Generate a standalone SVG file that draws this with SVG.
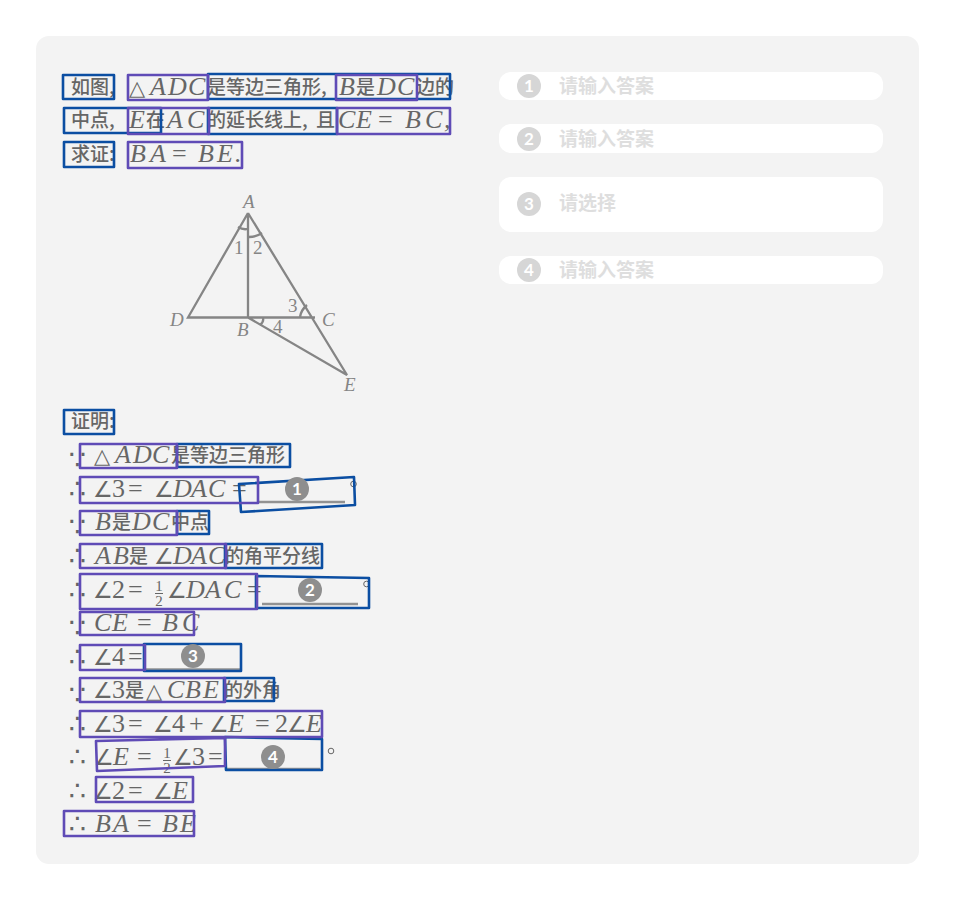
<svg xmlns="http://www.w3.org/2000/svg" width="955" height="900" viewBox="0 0 955 900">
<style>
text{font-family:"Liberation Serif","DejaVu Sans","Noto Sans CJK SC",serif;font-size:25px;fill:#666}
.c{font-family:"Noto Sans CJK SC","Liberation Sans",sans-serif;font-size:19px;font-weight:500}
.m{font-style:italic;font-size:26px}
.r{font-size:26px}
.a{font-size:22px}
.s{font-family:"DejaVu Sans",sans-serif;font-size:21px}
.d{font-family:"DejaVu Sans",sans-serif;font-size:27px}
.f{font-size:15px;text-anchor:middle}
.g{font-family:"Liberation Serif",serif;font-size:19px;fill:#858585}
.gi{font-style:italic}
.b{fill:none;stroke:#0b4ea2;stroke-width:2.6;stroke-linejoin:round}
.p{fill:none;stroke:#5f4bb6;stroke-width:2.6;stroke-linejoin:round}
.u{stroke:#929292;stroke-width:2.5}
.l{fill:none;stroke:#858585;stroke-width:2.3}
.h{fill:#fff}
.bd{fill:#8e8e8e}
.bl{fill:#d6d6d6}
.n{font-family:"Lato","Liberation Sans",sans-serif;font-weight:700;font-size:17px;fill:#fff;text-anchor:middle}
.q{font-family:"Noto Sans CJK SC",sans-serif;font-size:19px;font-weight:700;fill:#dedede}
.o{fill:none;stroke:#666;stroke-width:1}
</style>
<rect x="0" y="0" width="955" height="900" fill="#fff"/>
<rect x="36" y="36" width="883" height="828" rx="13" fill="#f3f3f3"/>
<g id="answers">
<rect class="h" x="499" y="72" width="384" height="28" rx="12"/>
<rect class="h" x="499" y="124" width="384" height="29" rx="12"/>
<rect class="h" x="499" y="177" width="384" height="55" rx="12"/>
<rect class="h" x="499" y="256" width="384" height="28" rx="12"/>
<circle class="bl" cx="529" cy="86" r="12"/><text class="n" x="529" y="92">1</text><text class="q" x="559" y="93">请输入答案</text>
<circle class="bl" cx="529" cy="139" r="12"/><text class="n" x="529" y="145">2</text><text class="q" x="559" y="146">请输入答案</text>
<circle class="bl" cx="529" cy="204" r="12"/><text class="n" x="529" y="210">3</text><text class="q" x="559" y="210">请选择</text>
<circle class="bl" cx="529" cy="270" r="12"/><text class="n" x="529" y="276">4</text><text class="q" x="559" y="277">请输入答案</text>
</g>
<g id="question">
<text class="c" x="71" y="94">如图,</text>
<text class="s" x="129" y="95">△</text><text class="m" x="150 168 188" y="95">ADC</text>
<text class="c" x="207" y="94">是等边三角形,</text>
<text class="m" x="339" y="95">B</text><text class="c" x="356" y="94">是</text><text class="m" x="377 397" y="95">DC</text>
<text class="c" x="416" y="94">边的</text>
<text class="c" x="71" y="127">中点,</text>
<text class="m" x="129" y="128">E</text><text class="c" x="146" y="127">在</text><text class="m" x="167 187" y="128">AC</text>
<text class="c" x="207" y="127">的延长线上,</text><text class="c" x="316" y="127">且</text>
<text class="m" x="338 356" y="128">CE</text><text class="r" x="378" y="128">=</text><text class="m" x="405 425 444" y="128">BC,</text>
<text class="c" x="71" y="161">求证:</text>
<text class="m" x="130 150" y="162">BA</text><text class="r" x="172" y="162">=</text><text class="m" x="198 217 235" y="162">BE.</text>
</g>
<g id="figure">
<path class="l" d="M248 213L188 317.500H315M248 213V317.500M248 213L347 375L248 317.500"/>
<path class="l" d="M238 227Q243 230 247.500 229M249 237Q256 237 262 233M300 317Q301 310 307 305M260 325Q264 322 263 318"/>
<text class="g gi" x="243" y="208">A</text><text class="g gi" x="170" y="326">D</text><text class="g gi" x="322" y="326">C</text><text class="g gi" x="237" y="336">B</text><text class="g gi" x="344" y="391">E</text>
<text class="g" x="234" y="254">1</text><text class="g" x="253" y="254">2</text><text class="g" x="288" y="312">3</text><text class="g" x="273" y="333">4</text>
</g>
<g id="proof">
<text class="c" x="71" y="428">证明:</text>
<text class="d" x="69" y="469">∵</text><text class="s" x="94" y="463">△</text><text class="m" x="115 133 152" y="463">ADC</text><text class="c" x="171" y="462">是等边三角形</text>
<text class="d" x="69" y="498">∴</text><text class="r" x="93 112 128 154" y="497"><tspan class="a">∠</tspan>3=<tspan class="a">∠</tspan></text><text class="m" x="173 191 208" y="497">DAC</text><text class="r" x="232" y="497">=</text>
<text class="d" x="69" y="536">∵</text><text class="m" x="95" y="530">B</text><text class="c" x="112" y="529">是</text><text class="m" x="132 152" y="530">DC</text><text class="c" x="171" y="529">中点</text>
<text class="d" x="69" y="565">∴</text><text class="m" x="95 113" y="564">AB</text><text class="c" x="129" y="563">是</text><text class="r a" x="154" y="564">∠</text><text class="m" x="173 191 208" y="564">DAC</text><text class="c" x="225" y="563">的角平分线</text>
<text class="d" x="69" y="599">∴</text><text class="r" x="93 112 128" y="598"><tspan class="a">∠</tspan>2=</text><text class="f" x="159" y="591">1</text><path d="M155 593.500H163" stroke="#666" stroke-width="1"/><text class="f" x="159" y="606">2</text><text class="r a" x="167" y="598">∠</text><text class="m" x="186 205 224" y="598">DAC</text><text class="r" x="247" y="598">=</text>
<text class="d" x="69" y="637">∵</text><text class="m" x="94 112" y="631">CE</text><text class="r" x="137" y="631">=</text><text class="m" x="162 182" y="631">BC</text>
<text class="d" x="69" y="666">∴</text><text class="r" x="93 112 128" y="665"><tspan class="a">∠</tspan>4=</text>
<text class="d" x="69" y="704">∵</text><text class="r" x="93 112" y="698"><tspan class="a">∠</tspan>3</text><text class="c" x="122" y="697" dx="3">是</text><text class="s" x="146" y="698">△</text><text class="m" x="167 185 203" y="698">CBE</text><text class="c" x="224" y="697">的外角</text>
<text class="d" x="69" y="733">∴</text><text class="r" x="93 112 128 153 172 189 209" y="732"><tspan class="a">∠</tspan>3=<tspan class="a">∠</tspan>4+<tspan class="a">∠</tspan></text><text class="m" x="228" y="732">E</text><text class="r" x="255 275 287" y="732">=2<tspan class="a">∠</tspan></text><text class="m" x="306" y="732">E</text>
<text class="d" x="69" y="766">∴</text><text class="r a" x="94" y="765">∠</text><text class="m" x="113" y="765">E</text><text class="r" x="137" y="765">=</text><text class="f" x="167" y="758">1</text><path d="M163 760.500H171" stroke="#666" stroke-width="1"/><text class="f" x="167" y="773">2</text><text class="r" x="173 192 208" y="765"><tspan class="a">∠</tspan>3=</text>
<text class="d" x="69" y="800">∴</text><text class="r" x="93 112 128 153" y="799"><tspan class="a">∠</tspan>2=<tspan class="a">∠</tspan></text><text class="m" x="172" y="799">E</text>
<text class="d" x="69" y="833">∴</text><text class="m" x="95 113" y="832">BA</text><text class="r" x="137" y="832">=</text><text class="m" x="162 180" y="832">BE</text>
</g>
<g id="blanks">
<path class="u" d="M258 502H345M262 604H358M146 669.500H240M226 769H320"/>
<circle class="o" cx="353.500" cy="484" r="2.800"/>
<circle class="o" cx="366.500" cy="584" r="2.800"/>
<circle class="o" cx="331" cy="751" r="2.800"/>
</g>
<g id="overlay-blue">
<path class="b" d="M63 75H114V99H63ZM208 74H450V99H208ZM64 108H161V133H64ZM208 108H337V134H208ZM64 142H114V167H64ZM64 410H114V434H64ZM177 444H290V467H177ZM239 484L354 477L355 505L241 512ZM177 511H209V534H177ZM225 544H322V568H225ZM256 576L369 578V608L256 608ZM144 644H241V671H144ZM224 678H274V701H224ZM225 737L322 739V770H226Z"/>
</g>
<g id="overlay-purple">
<path class="p" d="M128 75H208V100H128ZM336 75H417V100H336ZM128 108H209V134H128ZM337 108H450V134H337ZM128 142H242V168H128ZM80 444H177V468H80ZM80 477H258V503H80ZM80 511H177V535H80ZM80 544H226V568H80ZM80 574H257V609L80 609ZM80 612H194V635H80ZM80 645H145V670H80ZM80 678H225V702H80ZM80 711H322V737H80ZM96 741L225 738V766L97 771ZM96 777H193V802H96ZM64 811H194V836H64Z"/>
</g>
<g id="badges">
<circle class="bd" cx="297" cy="489" r="12"/><text class="n" x="297" y="495">1</text>
<circle class="bd" cx="310" cy="590" r="12"/><text class="n" x="310" y="596">2</text>
<circle class="bd" cx="193" cy="656" r="12"/><text class="n" x="193" y="662">3</text>
<circle class="bd" cx="273" cy="757" r="12"/><text class="n" x="273" y="763">4</text>
</g>
</svg>
